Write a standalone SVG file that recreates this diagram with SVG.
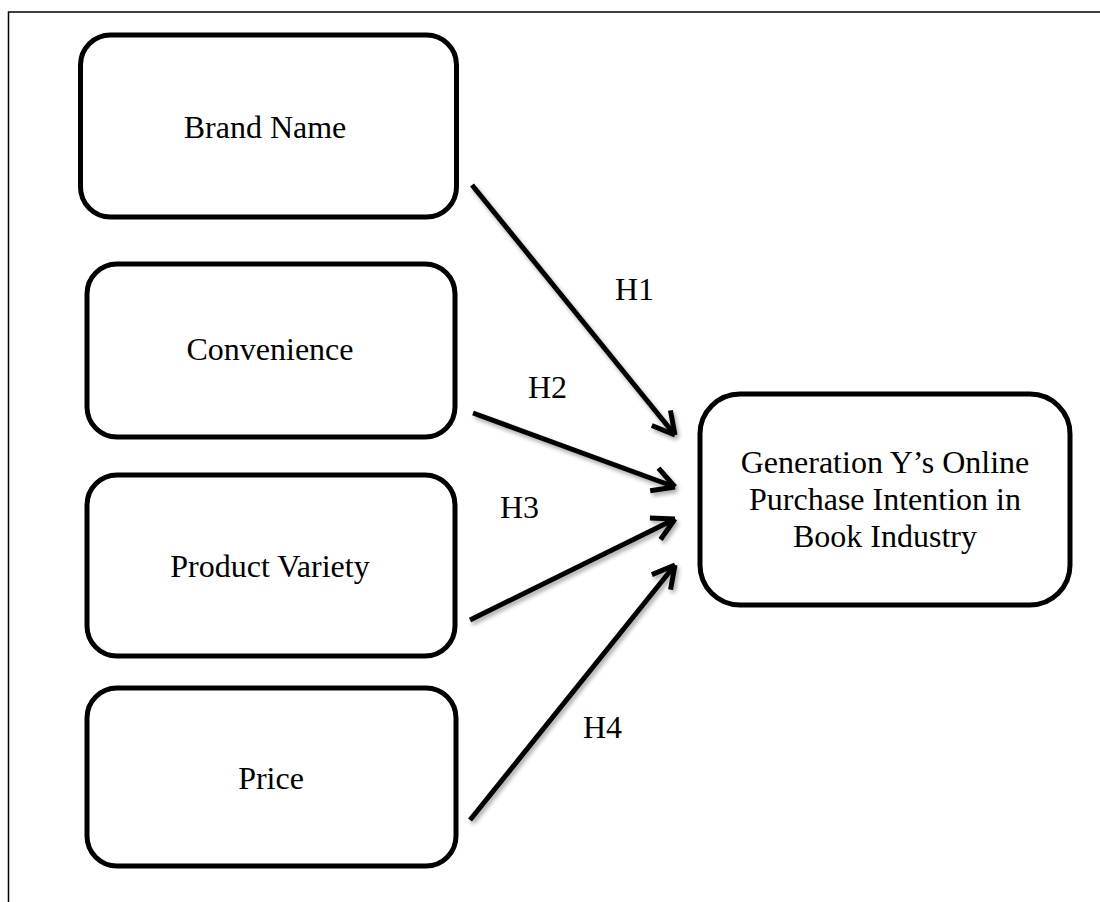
<svg xmlns="http://www.w3.org/2000/svg" width="1100" height="902" viewBox="0 0 1100 902">
<defs>
<style>
.box{fill:#fff;stroke:#000;stroke-width:5}
.lbl{font-family:"Liberation Serif","Times New Roman",serif;font-size:32px;fill:#000;text-anchor:middle}
.hl{font-family:"Liberation Serif","Times New Roman",serif;font-size:32px;fill:#000}
.arr{fill:none;stroke:#000;stroke-width:5;stroke-linecap:butt}
</style>
<marker id="ah" markerWidth="10" markerHeight="10" refX="8" refY="5" orient="auto" markerUnits="userSpaceOnUse" viewBox="0 0 10 10" overflow="visible">
<path d="M-14,-7 L8,5 M-14,17 L8,5" fill="none" stroke="#000" stroke-width="5" stroke-linejoin="miter"/>
</marker>
<filter id="sh" x="-10%" y="-10%" width="130%" height="130%">
<feGaussianBlur in="SourceAlpha" stdDeviation="2"/>
<feOffset dx="2" dy="3"/>
<feComponentTransfer><feFuncA type="linear" slope="0.35"/></feComponentTransfer>
<feMerge><feMergeNode/><feMergeNode in="SourceGraphic"/></feMerge>
</filter>
</defs>
<rect width="1100" height="902" fill="#fff"/>
<rect x="8.5" y="12" width="1200" height="1000" fill="none" stroke="#000" stroke-width="1.5"/>
<g id="brand"><rect class="box" x="80.5" y="35" width="376" height="182" rx="30"/><text class="lbl" x="265" y="138">Brand Name</text></g>
<g id="convenience"><rect class="box" x="87" y="264" width="368" height="173" rx="30"/><text class="lbl" x="270" y="360">Convenience</text></g>
<g id="variety"><rect class="box" x="87" y="475" width="368" height="181" rx="30"/><text class="lbl" x="270" y="577">Product Variety</text></g>
<g id="price"><rect class="box" x="87" y="688" width="369" height="178" rx="30"/><text class="lbl" x="271" y="789">Price</text></g>
<g id="intention"><rect class="box" x="700" y="394" width="370" height="211" rx="40"/><text class="lbl" x="885" y="473">Generation Y’s Online</text><text class="lbl" x="885" y="510">Purchase Intention in</text><text class="lbl" x="885" y="547">Book Industry</text></g>
<g id="connectors" filter="url(#sh)">
<line class="arr" x1="472" y1="185" x2="675" y2="435" marker-end="url(#ah)"/>
<line class="arr" x1="473" y1="413" x2="675" y2="487" marker-end="url(#ah)"/>
<line class="arr" x1="470" y1="620" x2="675" y2="519" marker-end="url(#ah)"/>
<line class="arr" x1="470" y1="820" x2="675" y2="565" marker-end="url(#ah)"/>
</g>
<g id="labels">
<text class="hl" x="615" y="300">H1</text>
<text class="hl" x="528" y="398">H2</text>
<text class="hl" x="500" y="518">H3</text>
<text class="hl" x="583" y="738">H4</text>
</g>
</svg>
